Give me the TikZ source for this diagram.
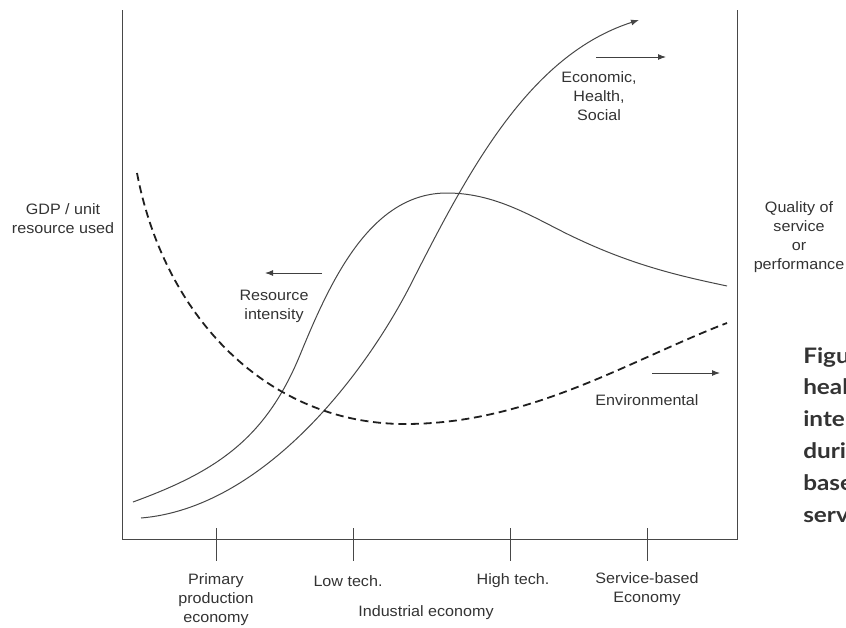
\documentclass[tikz,border=0pt]{standalone}
\usepackage{fontspec}
\setmainfont[FakeStretch=1.07]{Liberation Sans}
\newfontfamily\capfont[FakeStretch=1.14]{Lato}
\usetikzlibrary{arrows.meta}

\tikzset{
  lbl/.style={font=\fontsize{11.3}{14.3}\selectfont, text=black!80, align=center, inner sep=0pt},
  curve/.style={draw=black!72, line width=0.75pt},
  envcurve/.style={draw=black!88, line width=1.35pt, dash pattern=on 6pt off 3.5pt},
  dirarrow/.style={draw=black!75, line width=0.75pt, -{Latex[length=6pt,width=4.5pt]}},
  figtext/.style={font=\capfont\bfseries\fontsize{16}{20}\selectfont, text=black!80, inner sep=0pt, anchor=base west}
}

\begin{document}
\begin{tikzpicture}[x=0.75pt,y=-0.75pt]
\useasboundingbox (0,0) rectangle (846,628);

% frame and ticks
\draw[curve] (122,10) -- (122,539) -- (737,539) -- (737,10);
\foreach \t/\x in {prim/216,low/353,high/510,serv/647}
   \draw[curve] (\x,528) -- (\x,561) coordinate (tick\t);

% the three curves
\draw[curve] (133,502) .. controls (215,472) and (265,440) .. (300,355)
   .. controls (330,282) and (370,193) .. (447,193)
   .. controls (500,193) and (540,222) .. (580,240)
   .. controls (640,268) and (690,278) .. (727,286);
\draw[curve, -{Latex[length=6pt,width=4.5pt]}] (141,518) .. controls (262,508) and (365,376) .. (413,280)
   .. controls (470,168) and (530,55) .. (639,20);
\draw[envcurve] (137,173) .. controls (165,320) and (270,424) .. (405,424)
   .. controls (530,424) and (630,360) .. (727,323);

% direction arrows
\coordinate (econA) at (596,57);
\coordinate (econB) at (666,57);
\coordinate (resA) at (322,273);
\coordinate (resB) at (265,273);
\coordinate (envA) at (652,373);
\coordinate (envB) at (720,373);
\draw[dirarrow] (econA) -- (econB);
\draw[dirarrow] (resA) -- (resB);
\draw[dirarrow] (envA) -- (envB);

% labels
\node[lbl] (econ) at (599,96) {Economic,\\Health,\\Social};
\node[lbl] (resint) at (274,306) {Resource\\intensity};
\node[lbl] (env) at (647,400) {Environmental};
\node[lbl] (gdp) at (63,219) {GDP / unit\\resource used};
\node[lbl] (qual) at (799,237) {Quality of\\service\\or\\performance};

\node[lbl] (primary) at (216,600) {Primary\\production\\economy};
\node[lbl] (lowtech) at (348,581) {Low tech.};
\node[lbl] (hightech) at (513,581) {High tech.};
\node[lbl] (service) at (647,589) {Service-based\\Economy};
\node[lbl] (industrial) at (426,613) {Industrial economy};

% caption cut at the edge
\foreach \w [count=\i] in {Figu,heal,inte,duri,base,serv}
   \node[figtext] (fig\i) at (803,{363+31.8*(\i-1)}) {\w};
\end{tikzpicture}
\end{document}
